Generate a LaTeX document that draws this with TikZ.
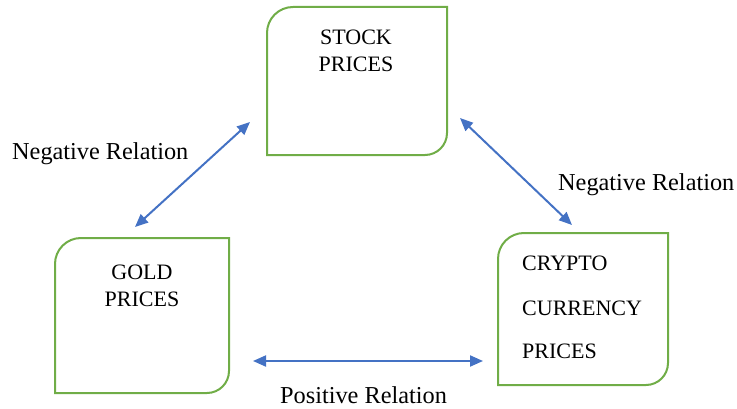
\documentclass[tikz,border=0pt]{standalone}
\usepackage{fontspec}
\setmainfont{Liberation Serif}
\usetikzlibrary{arrows.meta,calc}
\definecolor{boxgreen}{HTML}{70AD47}
\definecolor{arrowblue}{HTML}{4472C4}
\tikzset{
  boxframe/.style={draw=boxgreen, line width=2pt},
  boxtext/.style={inner sep=0pt, font=\fontsize{22}{26}\selectfont},
  reltext/.style={inner sep=0pt, font=\fontsize{24.3}{28}\selectfont, anchor=base west},
  relarrow/.style={draw=arrowblue, line width=2pt, {Triangle[length=13pt,width=11pt]}-{Triangle[length=13pt,width=11pt]}}
}
\begin{document}
\begin{tikzpicture}[x=1pt,y=1pt]
\useasboundingbox (0,0) rectangle (737,408);
% boxes (x1,ybottom) (x2,ytop)
\coordinate (stockSW) at (267,253); \coordinate (stockNE) at (447,401);
\coordinate (goldSW) at (55,15); \coordinate (goldNE) at (229,170);
\coordinate (cryptoSW) at (498,23); \coordinate (cryptoNE) at (668,175);
\foreach \b in {stock,gold,crypto}{
  \draw[boxframe] (\b SW)
    -- ($(\b SW |- \b NE)+(0,-26)$) arc[start angle=180, end angle=90, radius=26]
    -- (\b NE)
    -- ($(\b NE |- \b SW)+(0,22)$) arc[start angle=0, end angle=-90, radius=22]
    -- cycle;
}
% box texts
\node[boxtext, anchor=base] (stock1) at (356,363) {STOCK};
\node[boxtext, anchor=base] (stock2) at (356,336) {PRICES};
\node[boxtext, anchor=base] (gold1) at (142,129) {GOLD};
\node[boxtext, anchor=base] (gold2) at (142,102) {PRICES};
\node[boxtext, anchor=base west] (crypto1) at (522,138) {CRYPTO};
\node[boxtext, anchor=base west] (crypto2) at (522,93) {CURRENCY};
\node[boxtext, anchor=base west] (crypto3) at (522,50) {PRICES};
% arrow ends
\coordinate (aL1) at (250,286); \coordinate (aL2) at (135,181);
\coordinate (aR1) at (460,290); \coordinate (aR2) at (572,183);
\coordinate (aB1) at (253,47); \coordinate (aB2) at (483,47);
\draw[relarrow] (aL1) -- (aL2);
\draw[relarrow] (aR1) -- (aR2);
\draw[relarrow] (aB1) -- (aB2);
% labels
\node[reltext] (lblL) at (12,249) {Negative Relation};
\node[reltext] (lblR) at (558,218) {Negative Relation};
\node[reltext] (lblB) at (280,5) {Positive Relation};
\end{tikzpicture}
\end{document}
